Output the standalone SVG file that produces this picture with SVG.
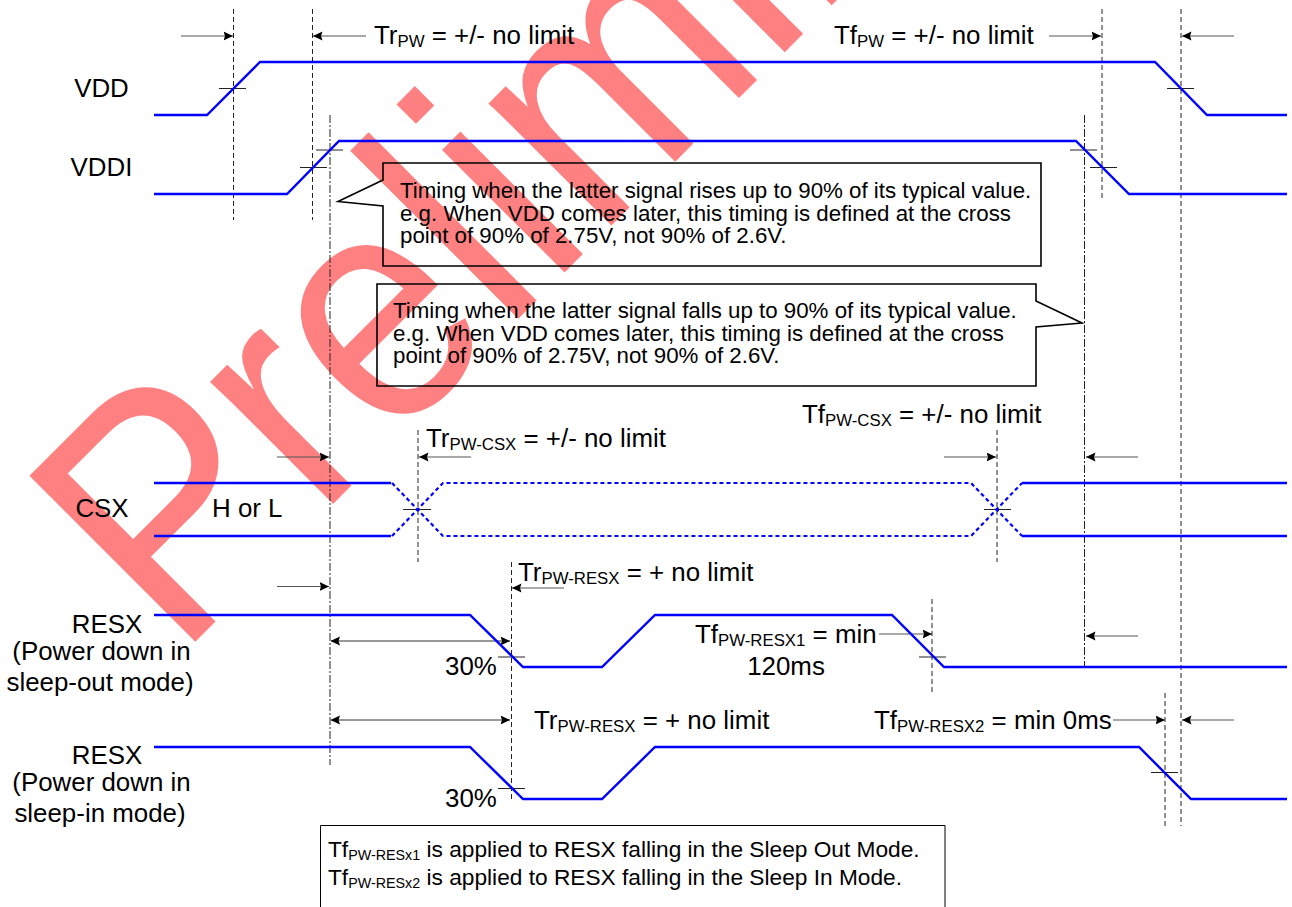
<svg xmlns="http://www.w3.org/2000/svg" width="1292" height="907" viewBox="0 0 1292 907">
<style>
text{font-family:"Liberation Sans",Arial,sans-serif;fill:#000}
.l{font-size:25.9px}
.c{font-size:22.3px}
.n{font-size:22.7px}
.s{font-size:16.8px}
.ns{font-size:14.3px}
.m{text-anchor:middle}
.w{fill:none;stroke:#0000ff;stroke-width:2.4;stroke-linejoin:miter}
.wd{fill:none;stroke:#0000ff;stroke-width:2.2;stroke-dasharray:4 3}
.v{fill:none;stroke:#222;stroke-width:1;stroke-dasharray:5 3}
.vd{fill:none;stroke:#222;stroke-width:1;stroke-dasharray:8 2 2 2}
.t{fill:none;stroke:#222;stroke-width:1}
.a{fill:none;stroke:#555;stroke-width:1.1;marker-end:url(#h)}
.b{fill:none;stroke:#333;stroke-width:1;marker-end:url(#h);marker-start:url(#hs)}
.box{fill:none;stroke:#000;stroke-width:1.6}
</style>
<defs>
<marker id="h" markerUnits="userSpaceOnUse" markerWidth="10" markerHeight="10" refX="9.5" refY="5" orient="auto"><path d="M0 .5L9.5 5L0 9.5L1.5 5Z" fill="#000"/></marker>
<marker id="hs" markerUnits="userSpaceOnUse" markerWidth="10" markerHeight="10" refX=".5" refY="5" orient="auto"><path d="M9.5 .5L0 5L9.5 9.5L8 5Z" fill="#000"/></marker>
</defs>
<g id="watermark"><text transform="translate(179.4 657.6) rotate(-45) scale(.9 1)" style="font-size:328px;fill:#ff8080"><tspan font-size="341" dx="-3">P</tspan><tspan dx="-5.7">reliminary</tspan></text></g>
<g id="connectors">
<path class="v" d="M233.5 9V220M312.5 9V220M1102 9V200M1181 9V826M418 430V562M997 430V562M511.5 562V799M932 599V693M1165 693V826"/>
<path class="vd" d="M330 115V765M1084.5 115V667"/>
<path class="t" d="M219 88.5H246M316 150H343M300 167.5H327M1070 150H1097M1090 167.5H1117M1167 88.5H1194M403 509.5H431M984 509.5H1011M498 657H525M919 657H946M498 788.5H525M1151 772.5H1178"/>
<path class="a" d="M181 36H233"/><path class="a" d="M366 36H313"/><path class="a" d="M1049 36H1101"/><path class="a" d="M1234 36H1182"/>
<path class="a" d="M277 457H329"/><path class="a" d="M471 457H419"/><path class="a" d="M944 457H996"/><path class="a" d="M1138 457H1086"/>
<path class="a" d="M277 586.5H329"/><path class="a" d="M564 588H512"/><path class="a" d="M879 634H932"/><path class="a" d="M1138 636H1086"/>
<path class="a" d="M1113 720H1165"/><path class="a" d="M1234 720H1182"/>
<path class="b" d="M331 641H510"/><path class="b" d="M331 720H510"/>
</g>
<g id="VDD"><text class="l m" x="101.5" y="97">VDD</text><path class="w" d="M154 115H207L260 62H1155L1207 115H1287"/></g>
<g id="VDDI"><text class="l m" x="101.5" y="176">VDDI</text><path class="w" d="M154 194H287L339 141H1076L1129 194H1287"/></g>
<g id="CSX"><text class="l m" x="102" y="517">CSX</text><text class="l" x="212" y="517">H or L</text>
<path class="w" d="M154 483H391M154 536H391M1022 483H1287M1022 536H1287"/>
<path class="wd" d="M392 483L443 536H971L1022 483M392 536L443 483H971L1022 536"/></g>
<g id="RESX1"><text class="l m" x="107" y="633">RESX</text><text class="l m" x="101.5" y="660">(Power down in</text><text class="l m" x="100" y="691">sleep-out mode)</text>
<path class="w" d="M154 615H470L523 667H602L655 615H892L944 667H1287"/></g>
<g id="RESX2"><text class="l m" x="107" y="764">RESX</text><text class="l m" x="101.5" y="791">(Power down in</text><text class="l m" x="100" y="822">sleep-in mode)</text>
<path class="w" d="M154 747H470L523 799H602L655 747H1139L1191 799H1287"/></g>
<g id="labels">
<text class="l" x="374" y="44">Tr<tspan class="s" dy="3">PW</tspan><tspan dy="-3"> = +/- no limit</tspan></text>
<text class="l" x="834" y="44">Tf<tspan class="s" dy="3">PW</tspan><tspan dy="-3"> = +/- no limit</tspan></text>
<text class="l" x="426" y="447">Tr<tspan class="s" dy="3">PW-CSX</tspan><tspan dy="-3"> = +/- no limit</tspan></text>
<text class="l" x="802" y="423">Tf<tspan class="s" dy="3">PW-CSX</tspan><tspan dy="-3"> = +/- no limit</tspan></text>
<text class="l" x="518" y="581">Tr<tspan class="s" dy="3">PW-RESX</tspan><tspan dy="-3"> = + no limit</tspan></text>
<text class="l" x="695" y="643">Tf<tspan class="s" dy="3">PW-RESX1</tspan><tspan dy="-3"> = min</tspan></text>
<text class="l m" x="786" y="675">120ms</text>
<text class="l" x="534" y="729">Tr<tspan class="s" dy="3">PW-RESX</tspan><tspan dy="-3"> = + no limit</tspan></text>
<text class="l" x="874" y="729">Tf<tspan class="s" dy="3">PW-RESX2</tspan><tspan dy="-3"> = min 0ms</tspan></text>
<text class="l" x="445" y="675">30%</text>
<text class="l" x="445" y="807">30%</text>
</g>
<g id="callout-rise"><path class="box" d="M383 180L338 201.5L383 206V266H1041V163H383Z"/>
<text class="c" x="400" y="197.5">Timing when the latter signal rises up to 90% of its typical value.</text>
<text class="c" x="400" y="220.5">e.g. When VDD comes later, this timing is defined at the cross</text>
<text class="c" x="400" y="242.5">point of 90% of 2.75V, not 90% of 2.6V.</text></g>
<g id="callout-fall"><path class="box" d="M377 284H1036V301L1082 323L1036 327V386H377Z"/>
<text class="c" x="393" y="317.5">Timing when the latter signal falls up to 90% of its typical value.</text>
<text class="c" x="393" y="340.5">e.g. When VDD comes later, this timing is defined at the cross</text>
<text class="c" x="393" y="363">point of 90% of 2.75V, not 90% of 2.6V.</text></g>
<g id="note"><path fill="none" stroke="#000" stroke-width="1" d="M320.5 907V825.5H945V907"/>
<text class="n" x="328" y="857">Tf<tspan class="ns" dy="3">PW-RESx1</tspan><tspan dy="-3"> is applied to RESX falling in the Sleep Out Mode.</tspan></text>
<text class="n" x="328" y="885">Tf<tspan class="ns" dy="3">PW-RESx2</tspan><tspan dy="-3"> is applied to RESX falling in the Sleep In Mode.</tspan></text></g>
</svg>
